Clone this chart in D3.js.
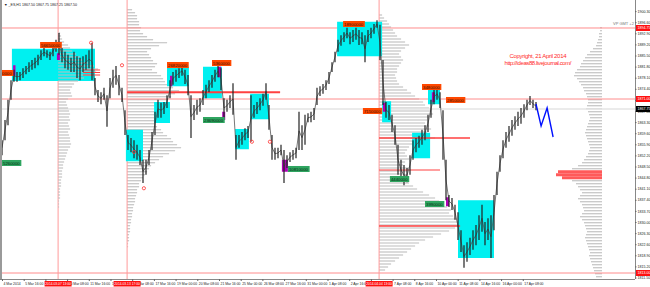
<!DOCTYPE html>
<html><head><meta charset="utf-8">
<script src="https://cdn.jsdelivr.net/npm/d3@7"></script>
<style>body{margin:0;background:#fff}svg{display:block;font-family:"Liberation Sans",Arial,sans-serif}</style>
</head><body><svg id="c" width="650" height="287"></svg>
<script>
// ---- DATA (hourly ES, sampled per slot) ----
const candleHi = [1857.25,1864,1870.75,1877.25,1880.75,1880,1880,1881.25,1882,1883.25,
1884,1884.75,1885.75,1887.25,1888,1887.25,1886.75,1888.75,1890.75,1893,
1888,1886.75,1885.75,1884.75,1886.75,1885.25,1884.75,1885.25,1885.75,1887.25,
1889.75,1878,1874,1873.25,1874.75,1872.25,1878,1880.75,1882,1879,
1874.75,1867.25,1859,1858,1857.25,1855.75,1854,1850.75,1850.75,1854,
1860,1866.75,1870.75,1869.75,1870,1872.25,1877.25,1880,1880.75,1881.25,
1882,1880.75,1879,1872.25,1869,1870.75,1871.25,1874,1875.75,1877.25,
1879,1880.75,1882.25,1881.25,1871.25,1870.75,1872.25,1876.25,1859,1859,
1860,1861.25,1862,1872.25,1869,1870,1871.25,1872.75,1876.25,1869,
1859,1854.75,1854.75,1855.75,1854,1852.25,1853.25,1854,1854.75,1866.75,
1862.25,1865.75,1866.25,1866.75,1868,1874.75,1875.25,1876,1877.25,1880,
1883.25,1886.75,1890.75,1892.25,1893.25,1894.75,1893.25,1894,1894.75,1894,
1893.25,1892.25,1894,1894.75,1896,1897.25,1895.75,1884,1870,1869,
1865.75,1862.25,1855.75,1850.75,1849,1848,1852.25,1857.25,1858,1858.75,
1860.75,1862.25,1865.75,1870.75,1874,1874.75,1873.25,1867.25,1850.75,1839,
1838,1835.75,1833.25,1827.25,1822.25,1823.25,1824.75,1827.25,1829,1832.25,
1835.75,1830,1831.25,1832.25,1839,1846.75,1852.25,1857.25,1860,1862,
1864,1865.25,1866.75,1868,1869.25,1870.75,1872,1870.75,1870];
const candleLo = [1852.25,1857.25,1862.25,1870.75,1876.75,1876.75,1877.25,1878,1879.25,1880,
1880.75,1881.25,1882.25,1884,1885.25,1884.75,1884,1885.25,1886.75,1885.75,
1883.25,1881.25,1880.75,1880,1880,1878,1877.25,1880,1880.75,1881.25,
1877.25,1872.25,1870,1869.25,1870.75,1861.75,1871.25,1874.75,1875.75,1872.25,
1870,1859,1854,1853.25,1851.25,1850.75,1849,1843,1845.75,1849,
1854,1859,1864.75,1864.75,1866,1868,1871.25,1875.75,1876.75,1878,
1878.75,1876,1872.25,1858,1864,1865.75,1866.75,1869,1871.25,1873.25,
1874.75,1876.75,1878.25,1874,1864.75,1866.75,1868,1865.75,1850.75,1854.75,
1855.75,1857.25,1858,1856.75,1864.75,1866,1867.25,1868.75,1870.75,1860.75,
1850.75,1850.75,1851.25,1852.25,1843,1848,1850,1850.75,1851.25,1854,
1854,1855.75,1863.25,1863.25,1864,1869,1872,1872.75,1874,1876,
1880,1883.25,1886.75,1888.75,1890,1891.25,1889.25,1890,1890.75,1889,
1889.25,1883.25,1890,1891.25,1892.75,1894.75,1884,1869,1864.75,1864,
1860,1855.75,1845.75,1844,1842.25,1843.25,1845.75,1850.75,1853.25,1854.75,
1855.75,1857.25,1860,1864.75,1869.25,1870.75,1868,1850.75,1837.25,1835,
1834,1830.75,1824,1820,1814.75,1816.75,1819,1820.75,1822.25,1824,
1826.75,1822.25,1824,1818,1827.25,1839,1846.75,1851.25,1854.75,1856.75,
1858.75,1860.75,1862,1862.75,1864.75,1867.25,1869,1868,1867.25];

const priceTicks = [1900.30,1896.60,1892.90,1889.20,1885.50,1881.80,1878.10,1874.40,1870.70,1867.00,
1863.30,1859.60,1855.90,1852.20,1848.50,1844.80,1841.10,1837.40,1833.70,1830.00,1826.30,1822.60,1818.90,1815.20,1811.50];
const timeLabels = ["4 Mar 2014","5 Mar 16:00","7 Mar 00:00","10 Mar 08:00","11 Mar 16:00","13 Mar 00:00","14 Mar 08:00",
"17 Mar 16:00","19 Mar 00:00","20 Mar 08:00","21 Mar 16:00","25 Mar 00:00","26 Mar 08:00","27 Mar 16:00",
"31 Mar 00:00","1 Apr 08:00","2 Apr 16:00","4 Apr 00:00","7 Apr 08:00","8 Apr 16:00","10 Apr 00:00",
"11 Apr 08:00","14 Apr 16:00","16 Apr 00:00","17 Apr 08:00"];
const timeLabelEvery = 7.233; // slots between time labels

const sessionStarts = [18.7, 41.7, 125.7];
const sessionLabels = ["2014.03.07 13:00","2014.03.13 17:00","2014.04.04 13:00"];
const levelPrices = [1894.67, 1871, 1813];
const levelLabels = ["1894.75","1871.00","1813.00"];
const bidPrice = 1867.67, bidLabel = "1867.75";

// value-area boxes [slotStart, slotEnd, high, low]
const boxes = [[3.3,31,1887.75,1877],[41.3,47,1860.75,1850.25],[50.7,56,1870,1863],[55,62.3,1881.75,1875.25],
[67,73.3,1881.75,1871.25],[77.7,82.3,1861,1854.25],[82.7,89,1872.75,1864.25],[111.7,126.7,1896.75,1885.25],
[126.7,129.7,1870.25,1863.25],[136.7,142.7,1859.75,1851.25],[142,146,1874.75,1869.25],[152,164,1837.25,1818]];
// magenta bars
const magentaBars = [[3.7,4.5,1882.25,1878.75],[18.3,19.3,1886.25,1884],[56,56.8,1878.75,1875.25],[72,73,1881.75,1878.25],
[73.4,74.4,1866.75,1864],[93.3,95.3,1850.75,1846.75],[127,128,1869.75,1866.75],[143.3,144.3,1873.25,1870],[148,149,1838.25,1835.25]];
// volume tags [slot, price, text]
const orangeTags = [[-2.7,1879.67,"2230000"],[12.7,1889,"56650000"],[55,1882.33,"26820000"],[70,1883,"5360000"],
[113.7,1896,"18900000"],[120.3,1867,"7150000"],[140,1875,"3480000"],[148,1870.67,"2850000"]];
const greenTags = [[0,1849.67,"5260000"],[67,1864,"23690000"],[95.3,1847.67,"10810000"],[129.3,1844.33,"4440000"],[141,1836,"3990000"]];
const markers = [[29.7,1889.75],[40,1882.25],[47.3,1841.25],[44,1853.33],[83.3,1856.75],[89.3,1856.75]];
// red extension lines [price, slotStart, slotEnd, width]
const redSegs = [[1873.25,41.7,92.7,2],[1858,125.7,156,1.5],[1847.33,125.7,146,1],[1828.67,125.7,152.7,1.5],
[1880.67,27,32.7,1],[1879.83,27,32.7,1],[1879,27,32.7,1]];
// volume profiles
const profA = {anchor:18.7, dir:1, top:1893, w:[2,3,4,6,10,12,14,18,22,24,30,36,40,38,34,26,20,16,14,12,13,14,10,8,9,10,11,12,11,12,10,11,12,10,11,12,12,13,12,10,9,8,7,6,5,5,4,4,4,3,3,3,2,2,2,2,1,1,1]};
const profB = {anchor:41.7, dir:1, top:1900.75, w:[5,8,10,10,12,12,14,13,16,20,26,40,32,24,20,22,24,26,30,28,25,30,34,36,38,40,46,52,48,44,40,36,34,32,34,36,32,30,28,30,34,36,40,44,46,50,54,48,42,36,32,28,24,22,20,18,16,14,12,12,10,10,9,8,8,7,6,6,5,5,4,4,3,3,3,2,2,2,1,1]};
const profC = {anchor:125.7, dir:1, top:1899, w:[3,5,8,10,12,14,16,18,22,26,30,26,22,20,22,24,22,20,18,18,16,17,18,20,24,28,32,36,40,44,46,50,52,54,50,48,46,50,52,48,44,56,40,34,30,28,26,28,30,26,24,30,28,24,26,28,30,34,38,44,50,56,60,64,68,72,70,74,78,80,84,76,70,62,54,46,40,36,32,28,24,20,16,12,9,6]};
const profD = {anchor:200, dir:-1, top:1894.75, hot:[48,49,50], w:[2,2,3,3,4,5,6,9,12,15,17,19,21,22,25,27,28,25,23,21,19,18,16,15,14,14,15,16,14,13,12,13,14,15,16,17,16,15,14,13,12,13,14,16,18,20,24,30,44,46,40,30,26,24,22,20,22,24,22,20,19,18,20,22,20,18,17,16,15,16,17,16,15,14,13,12,13,12,11,10,9,8,7,6]};
const profStep = 1;
const projection = [[178,1869.33],[179.7,1862],[181.7,1868],[183.7,1858.33]];

// ---- CHART ----
const svg = d3.select("#c");
const plotR = 635, plotB = 279;
const x = d3.scaleLinear().domain([0,211]).range([2,plotR]);
const y = d3.scaleLinear().domain([1811,1904]).range([plotB,0]);
const vol = d3.scaleLinear().domain([0,100]).range([0,100]);
const axisFont = 3.6;

svg.append("rect").attr("width",650).attr("height",287).attr("fill","#fff");
svg.append("clipPath").attr("id","pc").append("rect").attr("x",0).attr("y",0).attr("width",plotR).attr("height",plotB);
const g = svg.append("g").attr("clip-path","url(#pc)");

function drawProfile(p){
  const gg = g.append("g");
  p.w.forEach((v,k)=>{
    const pr = p.top - k*profStep;
    const hot = p.hot && p.hot.includes(k);
    gg.append("line").attr("x1",x(p.anchor)).attr("x2",x(p.anchor)+p.dir*vol(v))
      .attr("y1",y(pr)).attr("y2",y(pr))
      .attr("stroke",hot?"#ff5a5a":"#bdbdbd").attr("stroke-width",hot?3:1.1);
  });
}
[profB,profC,profD].forEach(drawProfile);

// level lines
g.selectAll(".lvl").data(levelPrices).join("line").attr("x1",0).attr("x2",plotR)
  .attr("y1",d=>y(d)).attr("y2",d=>y(d)).attr("stroke","#ff8c8c").attr("stroke-width",1);
g.append("line").attr("x1",0).attr("x2",plotR).attr("y1",y(bidPrice)).attr("y2",y(bidPrice)).attr("stroke","#e4e4e4").attr("stroke-width",1.5);
// session lines
g.selectAll(".ses").data(sessionStarts).join("line").attr("x1",d=>x(d)).attr("x2",d=>x(d))
  .attr("y1",0).attr("y2",plotB).attr("stroke","#ff9a9a").attr("stroke-width",1);

// boxes
g.selectAll(".box").data(boxes).join("rect").attr("x",d=>x(d[0])).attr("width",d=>x(d[1])-x(d[0]))
  .attr("y",d=>y(d[2])).attr("height",d=>y(d[3])-y(d[2])).attr("fill","#00f0f0");
drawProfile(profA);
// red segs
g.selectAll(".rs").data(redSegs).join("line").attr("x1",d=>x(d[1])).attr("x2",d=>x(d[2]))
  .attr("y1",d=>y(d[0])).attr("y2",d=>y(d[0])).attr("stroke","#ff4040").attr("stroke-width",d=>d[3]);
// magenta
g.selectAll(".mg").data(magentaBars).join("rect").attr("x",d=>x(d[0])).attr("width",d=>Math.max(1.5,x(d[1])-x(d[0])))
  .attr("y",d=>y(d[2])).attr("height",d=>y(d[3])-y(d[2])).attr("fill","#b000b8");

// candles
const mids = candleHi.map((h,i)=>[x(i), y((h+candleLo[i])/2)]);
g.append("path").attr("d",d3.line()(mids)).attr("fill","none").attr("stroke","#555").attr("stroke-width",0.8);
g.selectAll(".cd").data(candleHi).join("line").attr("x1",(d,i)=>x(i)).attr("x2",(d,i)=>x(i))
  .attr("y1",d=>y(d)).attr("y2",(d,i)=>y(candleLo[i])).attr("stroke","#222").attr("stroke-width",1.2);

// projection
g.append("path").attr("d",d3.line().x(d=>x(d[0])).y(d=>y(d[1]))(projection)).attr("fill","none").attr("stroke","#0010ff").attr("stroke-width",1.4);

// markers
g.selectAll(".mk").data(markers).join("circle").attr("cx",d=>x(d[0])).attr("cy",d=>y(d[1])).attr("r",1.6)
  .attr("fill","none").attr("stroke","#ff3030").attr("stroke-width",0.8);

function tags(data, bg, fg){
  data.forEach(d=>{
    const t = g.append("text").attr("x",x(d[0])+1).attr("y",y(d[1])+1.6).attr("font-size",4.3).attr("fill",fg).text(d[2]);
    const bb = t.node().getBBox();
    g.insert("rect", function(){return t.node();}).attr("x",bb.x-1).attr("y",y(d[1])-3).attr("width",bb.width+2).attr("height",6).attr("fill",bg);
  });
}
tags(orangeTags,"#ff4800","#3a1000");
tags(greenTags,"#2fa560","#062a12");

// frame
svg.append("rect").attr("x",0).attr("y",0).attr("width",2).attr("height",plotB).attr("fill","#9a9a9a");
svg.append("line").attr("x1",plotR+0.5).attr("x2",plotR+0.5).attr("y1",0).attr("y2",plotB).attr("stroke","#888");
svg.append("line").attr("x1",0).attr("x2",plotR).attr("y1",plotB+0.5).attr("y2",plotB+0.5).attr("stroke","#888");

// right axis
const ya = svg.append("g").attr("transform",`translate(${plotR},0)`)
  .call(d3.axisRight(y).tickValues(priceTicks).tickFormat(d3.format(".2f")).tickSize(1.5).tickPadding(1));
ya.select(".domain").remove();
ya.selectAll("text").attr("font-size",axisFont).attr("fill","#222");
ya.selectAll("line").attr("stroke","#666");
levelPrices.forEach((p,i)=>{
  svg.append("rect").attr("x",plotR+1).attr("y",y(p)-3).attr("width",14).attr("height",6).attr("fill","#ff1010");
  svg.append("text").attr("x",plotR+2.5).attr("y",y(p)+1.3).attr("font-size",axisFont).attr("fill","#fff").text(levelLabels[i]);
});
svg.append("rect").attr("x",plotR+1).attr("y",y(bidPrice)-3).attr("width",14).attr("height",6).attr("fill","#000");
svg.append("text").attr("x",plotR+2.5).attr("y",y(bidPrice)+1.3).attr("font-size",axisFont).attr("fill","#fff").text(bidLabel);

// bottom axis
const tv = timeLabels.map((d,i)=>i*timeLabelEvery);
const xa = svg.append("g").attr("transform",`translate(0,${plotB})`)
  .call(d3.axisBottom(x).tickValues(tv).tickFormat((d,i)=>timeLabels[i]).tickSize(2).tickPadding(1.5));
xa.select(".domain").remove();
xa.selectAll("text").attr("font-size",3.4).attr("fill","#222").attr("text-anchor","start").attr("dx",1);
xa.selectAll("line").attr("stroke","#666");
sessionStarts.forEach((s,i)=>{
  svg.append("rect").attr("x",x(s)-13.5).attr("y",plotB+2).attr("width",27).attr("height",5.5).attr("fill","#ff1010");
  svg.append("text").attr("x",x(s)).attr("y",plotB+6).attr("text-anchor","middle").attr("font-size",3.3).attr("fill","#fff").text(sessionLabels[i]);
});

// texts
svg.append("text").attr("x",4).attr("y",5.5).attr("font-size",3.6).attr("fill","#222").text("\u25BC  _ES,H1  1867.50 1867.75 1867.25 1867.50");
svg.append("text").attr("x",613).attr("y",24.5).attr("font-size",4).attr("fill","#777").text("VP GMT +2");
svg.append("text").attr("x",538).attr("y",58).attr("text-anchor","middle").attr("font-size",6).attr("fill","#ff2a2a")
  .attr("textLength",57).text("Copyright, 21 April 2014");
svg.append("text").attr("x",538).attr("y",65).attr("text-anchor","middle").attr("font-size",6).attr("fill","#ff2a2a")
  .attr("textLength",67).text("http://ideas88.livejournal.com/");
</script></body></html>
